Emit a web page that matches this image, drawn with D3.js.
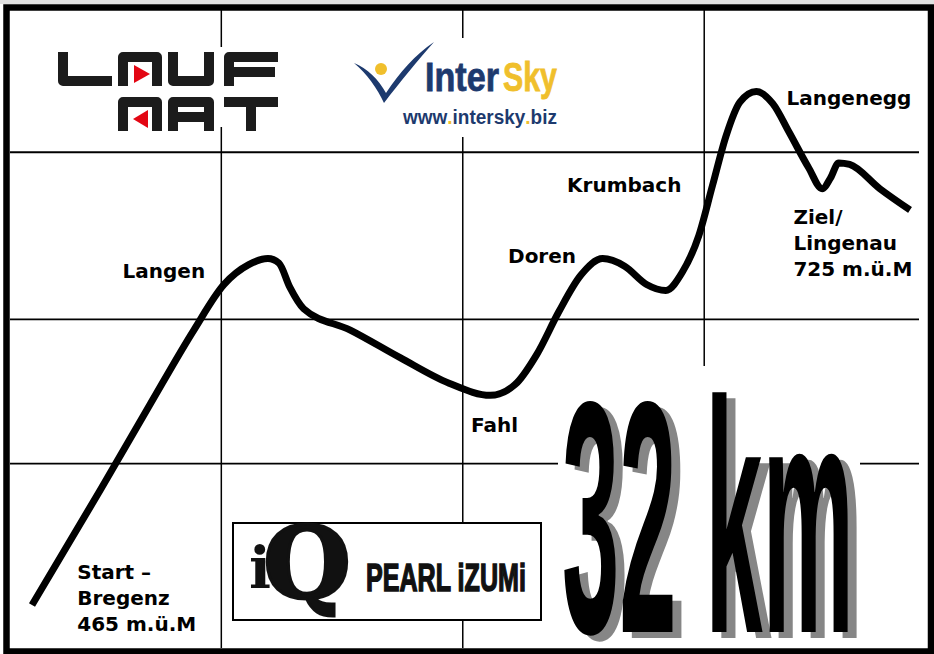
<!DOCTYPE html>
<html>
<head>
<meta charset="utf-8">
<script src="https://cdn.jsdelivr.net/npm/d3@7"></script>
<style>
  body { margin: 0; background: #fff; }
  .place { font-family: "DejaVu Sans", Verdana, sans-serif; font-weight: bold; font-size: 20px; fill: #000; }
  .narrow { font-family: "Liberation Sans", Arial, sans-serif; font-weight: bold; }
</style>
</head>
<body>
<div id="profile"></div>
<script>
var svgWidth = 934;
var svgHeight = 654;

// route profile: distance (km) and elevation (m)
var distKm = [0, 2.5, 4.3, 5.9, 7.0, 7.9, 8.6, 9.0, 9.4, 9.9, 11.6, 13.4, 15.2, 16.7, 17.6, 18.4, 19.2, 20.0, 20.8, 21.6, 22.4, 23.1, 23.7, 24.3, 24.8, 25.3, 25.8, 26.4, 27.0, 27.6, 28.3, 28.8, 29.1, 29.4, 29.8, 30.9, 32.0];
var elevM = [465, 541, 597, 646, 676, 689, 693, 690, 674, 660, 646, 628, 611, 603, 610, 630, 658, 682, 693, 688, 676, 672, 684, 708, 741, 774, 796, 803, 795, 776, 753, 739, 746, 756, 755, 739, 725];

// grid lines, in km and m
var gridKm = [6.9, 15.7, 24.5];
var gridElev = [763, 653, 558];

// place labels
var placeLines = [["Langen"], ["Fahl"], ["Doren"], ["Krumbach"], ["Langenegg"], ["Ziel/", "Lingenau", "725 m.ü.M"], ["Start –", "Bregenz", "465 m.ü.M"]];
var placeKm = [3.3, 16.0, 17.35, 19.5, 27.5, 27.75, 1.65];
var placeElev = [680, 579, 690, 737, 794, 716, 482];

var totalLabel = "32 km";

var svg = d3.select("#profile")
    .append("svg")
    .attr("width", svgWidth)
    .attr("height", svgHeight);

var xScale = d3.scaleLinear()
    .domain([0, 32])
    .range([32, 910]);

var yScale = d3.scaleLinear()
    .domain([465, 725])
    .range([605, 210]);

// squeeze a text horizontally so it spans w pixels from (x, y)
function fitWidth(sel, x, y, w) {
    var len = sel.node().getComputedTextLength();
    sel.attr("transform", `translate(${x},${y}) scale(${w / len},1)`);
    return sel;
}

//Light strip at the top
svg.append("rect")
    .attr("x", 0).attr("y", 0)
    .attr("width", svgWidth).attr("height", 4)
    .attr("fill", "#e2e2e2");

//Grid
svg.selectAll(".vgrid")
    .data(gridKm)
    .enter()
    .append("line")
    .attr("class", "vgrid")
    .attr("x1", d => xScale(d))
    .attr("x2", d => xScale(d))
    .attr("y1", 10)
    .attr("y2", 648)
    .attr("stroke", "#000")
    .attr("stroke-width", 1.5);

svg.selectAll(".hgrid")
    .data(gridElev)
    .enter()
    .append("line")
    .attr("class", "hgrid")
    .attr("x1", 10)
    .attr("x2", 919)
    .attr("y1", d => yScale(d))
    .attr("y2", d => yScale(d))
    .attr("stroke", "#000")
    .attr("stroke-width", 1.8);

//LAUF ART logo
var lauf = svg.append("g");
lauf.append("rect")
    .attr("x", 50).attr("y", 47)
    .attr("width", 235).attr("height", 80)
    .attr("fill", "#fff");
var laufPaths = [
    "M63,52 V81 H112",
    "M123,86 V57 H157 V86",
    "M173,52 V81 H209 V52",
    "M229,86 V57 H278 M229,72 H275",
    "M123,131 V102 H157 V131",
    "M173,131 V102 H209 V131 M173,117 H209",
    "M224,102 H278 M251,102 V131"
];
lauf.selectAll("path")
    .data(laufPaths)
    .enter()
    .append("path")
    .attr("d", d => d)
    .attr("fill", "none")
    .attr("stroke", "#1c1c1c")
    .attr("stroke-width", 10)
    .attr("stroke-linejoin", "round");
lauf.append("path")
    .attr("d", "M134,65 L150,74 L134,83 Z")
    .attr("fill", "#e30613");
lauf.append("path")
    .attr("d", "M148,110 L133,119 L148,128 Z")
    .attr("fill", "#e30613");

//InterSky logo
var sky = svg.append("g");
sky.append("rect")
    .attr("x", 352).attr("y", 38)
    .attr("width", 208).attr("height", 99)
    .attr("fill", "#fff");
sky.append("path")
    .attr("d", "M354,63 C367,68 379,80 386,93 C400,72 415,55 434,42 C418,60 400,82 384,103 C377,88 367,74 354,63 Z")
    .attr("fill", "#1d3a6e");
sky.append("circle")
    .attr("cx", 381).attr("cy", 69).attr("r", 6)
    .attr("fill", "#f0bf2c");
fitWidth(sky.append("text")
    .attr("class", "narrow")
    .attr("font-size", 40)
    .attr("fill", "#1d3a6e")
    .attr("stroke", "#1d3a6e")
    .attr("stroke-width", 0.8)
    .text("Inter"), 425, 91, 74);
fitWidth(sky.append("text")
    .attr("class", "narrow")
    .attr("font-size", 40)
    .attr("fill", "#f0bf2c")
    .attr("stroke", "#f0bf2c")
    .attr("stroke-width", 0.8)
    .text("Sky"), 503, 91, 54);
var url = sky.append("text")
    .attr("class", "narrow")
    .attr("font-size", 21)
    .attr("fill", "#1d3a6e");
url.append("tspan").text("www");
url.append("tspan").attr("fill", "#f0bf2c").text(".");
url.append("tspan").text("intersky");
url.append("tspan").attr("fill", "#f0bf2c").text(".");
url.append("tspan").text("biz");
fitWidth(url, 403, 124, 152);

//Pearl Izumi box
var pearl = svg.append("g");
pearl.append("rect")
    .attr("x", 233).attr("y", 523)
    .attr("width", 308).attr("height", 97)
    .attr("fill", "#fff")
    .attr("stroke", "#000")
    .attr("stroke-width", 2);
fitWidth(pearl.append("text")
    .attr("font-family", "DejaVu Serif, serif")
    .attr("font-weight", "bold")
    .attr("font-size", 100)
    .attr("fill", "#111")
    .attr("stroke", "#111")
    .attr("stroke-width", 3)
    .text("Q"), 263, 598, 88);
pearl.append("text")
    .attr("x", 249).attr("y", 588)
    .attr("font-family", "DejaVu Serif, serif")
    .attr("font-weight", "bold")
    .attr("font-size", 58)
    .attr("fill", "#111")
    .text("i");
fitWidth(pearl.append("text")
    .attr("class", "narrow")
    .attr("font-size", 38)
    .attr("fill", "#111")
    .attr("stroke", "#111")
    .attr("stroke-width", 1.5)
    .text("PEARL iZUMi"), 366, 591, 160);

//Big distance label with shadow
var big = svg.append("g");
big.append("rect")
    .attr("x", 558).attr("y", 366)
    .attr("width", 302).attr("height", 282)
    .attr("fill", "#fff");
fitWidth(big.append("text")
    .attr("class", "narrow")
    .attr("font-size", 331)
    .attr("fill", "#868686")
    .text(totalLabel), 571, 638, 292);
fitWidth(big.append("text")
    .attr("class", "narrow")
    .attr("font-size", 331)
    .attr("fill", "#000")
    .text(totalLabel), 562, 632, 292);

//Elevation line
var line = d3.line()
    .x(d => xScale(d[0]))
    .y(d => yScale(d[1]))
    .curve(d3.curveMonotoneX);

svg.append("path")
    .datum(d3.zip(distKm, elevM))
    .attr("d", line)
    .attr("fill", "none")
    .attr("stroke", "#000")
    .attr("stroke-width", 7);

//Place labels
var labels = svg.selectAll(".place")
    .data(placeLines)
    .enter()
    .append("text")
    .attr("class", "place")
    .attr("x", (d, i) => xScale(placeKm[i]))
    .attr("y", (d, i) => yScale(placeElev[i]));

labels.selectAll("tspan")
    .data(d => d)
    .enter()
    .append("tspan")
    .attr("x", function() { return d3.select(this.parentNode).attr("x"); })
    .attr("dy", (d, i) => i === 0 ? 0 : 26)
    .text(d => d);

//Frame
svg.append("rect")
    .attr("x", 6.5).attr("y", 7.5)
    .attr("width", 924.5).attr("height", 644)
    .attr("fill", "none")
    .attr("stroke", "#000")
    .attr("stroke-width", 6.5);
</script>
</body>
</html>
